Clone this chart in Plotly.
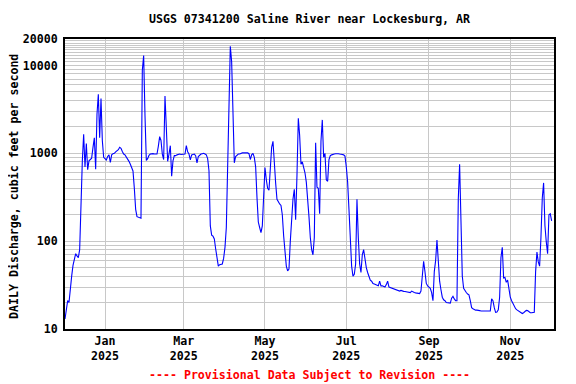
import pandas as pd
import plotly.graph_objects as go

# Daily discharge values (cfs), one per day starting 2024-12-02
start_date = "2024-12-02"
discharge = [
    13, 16, 21, 20, 32, 40, 53, 64, 72, 68,
    65, 80, 290, 820, 1650, 700, 1290, 650, 820, 860,
    880, 1170, 1500, 660, 2800, 4700, 1500, 4200, 1400, 900,
    860, 840, 920, 960, 790, 960, 990, 1000, 1040, 1060,
    1100, 1170, 1140, 1050, 980, 960, 910, 870, 810, 750,
    690, 630, 400, 230, 190, 186, 186, 182, 8800, 13000,
    2700, 830, 870, 950, 980, 990, 990, 980, 990, 980,
    1200, 1550, 1400, 980, 850, 4500, 1970, 810, 980, 1220,
    550, 820, 940, 940, 960, 980, 980, 970, 970, 970,
    980, 1220, 1040, 980, 840, 960, 980, 980, 940, 780,
    920, 960, 980, 990, 1000, 980, 960, 870, 632, 149,
    117, 114, 106, 82, 68, 52, 54, 54, 55, 64,
    85, 143, 750, 4000, 16500, 11000, 2000, 780, 920, 960,
    980, 980, 1000, 1010, 1010, 1010, 1010, 1010, 990, 850,
    960, 1000, 900, 700, 315, 165, 143, 125, 149, 300,
    690, 500, 400, 380, 720, 1170, 1370, 720, 460, 300,
    275, 265, 255, 200, 115, 70, 52, 46, 48, 100,
    180, 300, 390, 175, 560, 2500, 1600, 750, 800, 700,
    600, 470, 320, 190, 110, 80, 70, 110, 1320, 410,
    400, 205, 1370, 2400, 900, 1000, 500, 480, 850, 940,
    960, 980, 980, 990, 1000, 990, 980, 980, 970, 960,
    930, 700, 470, 230, 92, 52, 40, 42, 55, 300,
    110, 55, 44, 70, 80, 60, 50, 44, 39, 36,
    35, 33, 32.5, 32, 31.5, 31, 35, 31, 31, 30.5,
    30, 32, 35, 30, 29.6, 29, 28.5, 28, 27.8, 27.5,
    27.2, 27, 27.5, 27, 26.8, 26.7, 26.5, 26.3, 26, 26,
    27, 26.3, 26, 25.8, 25.5, 25.3, 25.3, 27, 38, 59,
    45, 33, 31, 30, 29, 26, 21, 45, 60, 103,
    55, 35, 28, 23, 21.5, 21, 20, 19.8, 19.7, 19.7,
    22.4, 23.5, 22, 21, 21, 300, 750, 100, 40, 29,
    27, 26, 25, 24.5, 21, 17.5, 17, 16.6, 16.4, 16.4,
    16.4, 16.2, 16, 16, 16, 15.8, 15.7, 15.7, 15.7, 16,
    22, 21, 17.5, 15.5, 15.6, 16.5, 23, 65, 85, 38,
    38.5, 34, 36, 26.5, 23, 21, 19.5, 18, 17, 16.5,
    16.2, 15.8, 15.3, 15, 15.3, 15.8, 16.3, 16.2, 15.5, 15.3,
    15.3, 15.3, 15.5, 45, 75, 58, 52, 110, 310, 460,
    150, 98, 72, 200, 205, 170,
]
dates = pd.date_range(start=start_date, periods=len(discharge), freq="D")

# Axis ticks
x_tick_dates = ["2025-01-01", "2025-03-01", "2025-05-01", "2025-07-01", "2025-09-01", "2025-11-01"]
x_tick_labels = ["Jan<br>2025", "Mar<br>2025", "May<br>2025", "Jul<br>2025", "Sep<br>2025", "Nov<br>2025"]
y_grid_values = ([m * 10 for m in range(1, 10)] + [m * 100 for m in range(1, 10)]
                 + [m * 1000 for m in range(1, 10)] + [m * 1000 for m in range(10, 21)])
y_labeled = {10: "10", 100: "100", 1000: "1000", 10000: "10000", 20000: "20000"}
y_tick_text = [y_labeled.get(v, "") for v in y_grid_values]

title_text = "USGS 07341200 Saline River near Lockesburg, AR"
y_title_text = "DAILY Discharge, cubic feet per second"
footer_text = "---- Provisional Data Subject to Revision ----"

FONT = "DejaVu Sans Mono"
FS = 11.6
OFF = 8  # page body margin offset

fig = go.Figure()
fig.add_trace(go.Scatter(x=dates, y=discharge, mode="lines",
                         line=dict(color="#0000FF", width=1.1), showlegend=False,
                         hoverinfo="skip"))

fig.update_layout(
    width=576, height=384,
    margin=dict(l=65 - OFF, r=576 - 554 + OFF, t=39 - OFF, b=384 - 329 + OFF),
    paper_bgcolor="white", plot_bgcolor="white",
    title=dict(text=title_text, x=(309.5 - OFF) / 576, xref="container", xanchor="center",
               y=1 - (19 - OFF) / 384, yref="container", yanchor="middle",
               font=dict(family=FONT, size=FS, color="black", weight="bold")),
    font=dict(family=FONT, size=FS, color="black"),
)
fig.update_xaxes(
    range=["2024-12-02", "2025-12-03 19:00"],
    tickvals=x_tick_dates, ticktext=x_tick_labels,
    showgrid=True, gridcolor="#C8C8C8", gridwidth=1,
    showline=True, linecolor="black", linewidth=2, mirror=True,
    ticks="", zeroline=False,
    tickfont=dict(family=FONT, size=FS, color="black", weight="bold"),
)
fig.update_yaxes(
    type="log", range=[1, 4.30103],
    tickvals=y_grid_values, ticktext=y_tick_text,
    showgrid=True, gridcolor="#C8C8C8", gridwidth=1,
    showline=True, linecolor="black", linewidth=2, mirror=True,
    ticks="outside", ticklen=3, tickcolor="rgba(0,0,0,0)", zeroline=False,
    tickfont=dict(family=FONT, size=FS, color="black", weight="bold"),
)
fig.add_annotation(text=y_title_text, xref="paper", yref="paper",
                   x=(14 - 65) / 489, y=0.49, textangle=-90, showarrow=False,
                   xanchor="center", yanchor="middle",
                   font=dict(family=FONT, size=FS, color="black", weight="bold"))
fig.add_annotation(text=footer_text, xref="paper", yref="paper",
                   x=0.5, y=(329 - 375) / 290, showarrow=False,
                   xanchor="center", yanchor="middle",
                   font=dict(family=FONT, size=FS, color="#FF0000", weight="bold"))

fig.write_html("out.html")
